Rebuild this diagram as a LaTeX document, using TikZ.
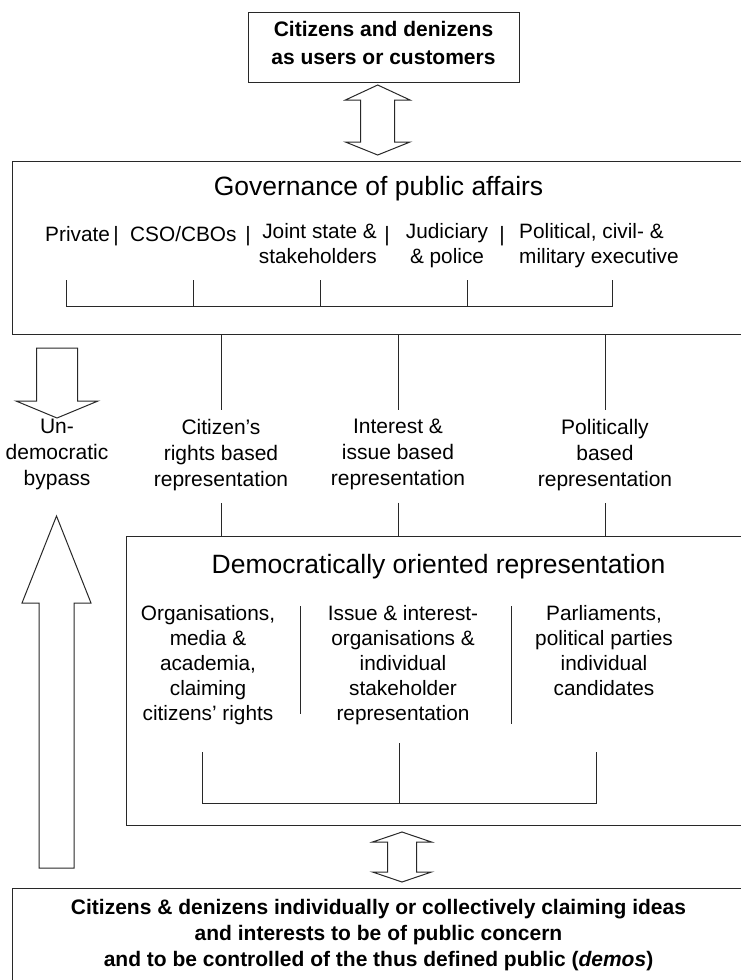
\documentclass[tikz,border=0pt]{standalone}
\usepackage{fontspec}
\setmainfont{Liberation Sans}
\usepackage{tikz}
\usetikzlibrary{positioning}
\definecolor{lineblack}{RGB}{40,40,40}
\tikzset{
  panel/.style={
    rectangle,
    draw=lineblack,
    line width=1pt,
    inner sep=0pt
  },
  txt/.style={
    inner sep=0pt,
    align=center,
    font=\fontsize{20.8}{25}\selectfont,
    execute at begin node=\strut,
    execute at end node=\strut
  },
  boldtxt/.style={
    txt,
    font=\fontsize{21}{26}\selectfont\bfseries
  },
  headtxt/.style={
    txt,
    font=\fontsize{26.5}{30}\selectfont
  },
  labeltxt/.style={
    txt,
    font=\fontsize{21}{26}\selectfont,
    inner ysep=9pt
  },
  link/.style={
    draw=lineblack,
    line width=1pt
  },
  blockarrow/.style={
    draw=lineblack,
    line width=1pt,
    fill=white,
    line join=miter
  }
}

\begin{document}
\begin{tikzpicture}[x=1pt,y=-1pt]
\useasboundingbox (0,0) rectangle (740,980);

% boxes
\node[panel, font=\fontsize{21}{28}\selectfont\bfseries, align=center, minimum width=271pt, minimum height=70pt, execute at begin node=\strut] (users) at (383.5,47) {Citizens and denizens\\as users or customers};
\node[panel, anchor=north west, minimum width=732pt, minimum height=173pt] (gov) at (12,161) {};
\node[panel, anchor=north west, minimum width=624pt, minimum height=289pt] (dem) at (126,536) {};
\node[panel, anchor=north west, minimum width=732pt, minimum height=110pt] (public) at (12,888) {};

% governance
\node[headtxt, below=13pt of gov.north] (govtitle) {Governance of public affairs};
\node[txt, anchor=north west] (private) at (45,223.5) {Private};
\node[txt, anchor=north] (bar1) at (116,223.5) {|};
\node[txt, anchor=north west] (cso) at (130,223.5) {CSO/CBOs};
\node[txt, anchor=north] (bar2) at (248,223.5) {|};
\node[txt, anchor=north east, align=right] (joint) at (377,223.5) {Joint state \&\\stakeholders};
\node[txt, anchor=north] (bar3) at (387,223.5) {|};
\node[txt, anchor=north] (judiciary) at (447,223.5) {Judiciary\\\& police};
\node[txt, anchor=north] (bar4) at (502,223.5) {|};
\node[txt, anchor=north west, align=left] (executive) at (519,223.5) {Political, civil- \&\\military executive};

\draw[link] (66,280) -- (66,306) -- (612,306) -- (612,280);
\draw[link] (193,280) -- (193,306);
\draw[link] (320,280) -- (320,306);
\draw[link] (467,280) -- (467,306);

% representation channels
\node[labeltxt, anchor=north] (bypass) at (57,410) {Un-\\democratic\\bypass};
\node[labeltxt, anchor=north] (rightsrep) at (221,410) {Citizen’s\\rights based\\representation};
\node[labeltxt, anchor=north] (issuerep) at (398,410) {Interest \&\\issue based\\representation};
\node[labeltxt, anchor=north] (politrep) at (605,410) {Politically\\based\\representation};

\draw[link] (rightsrep.north |- gov.south) -- (rightsrep.north);
\draw[link] (issuerep.north |- gov.south) -- (issuerep.north);
\draw[link] (politrep.north |- gov.south) -- (politrep.north);
\draw[link] (rightsrep.south) -- (rightsrep.south |- dem.north);
\draw[link] (issuerep.south) -- (issuerep.south |- dem.north);
\draw[link] (politrep.south) -- (politrep.south |- dem.north);

% democratic representation
\node[headtxt, below=16pt of dem.north] (demtitle) {Democratically oriented representation};
\node[txt, anchor=north] (orgs) at (208,605.5) {Organisations,\\media \&\\academia,\\claiming\\citizens’ rights};
\node[txt, anchor=north] (issueorgs) at (403,605.5) {Issue \& interest-\\organisations \&\\individual\\stakeholder\\representation};
\node[txt, anchor=north] (parliaments) at (604,605.5) {Parliaments,\\political parties\\individual\\candidates};

\draw[link] (300,606) -- (300,714);
\draw[link] (511,606) -- (511,724);
\draw[link] (202,752) -- (202,803) -- (596,803) -- (596,752);
\draw[link] (399,743) -- (399,803);

% public
\node[boldtxt, below=10.8pt of public.north] (demos) {Citizens \& denizens individually or collectively claiming ideas\\and interests to be of public concern\\and to be controlled of the thus defined public (\textit{demos})};

% block arrows
\draw[blockarrow] (377.7,85) -- (410,100) -- (394.7,100) -- (394.7,142) -- (410,142) -- (377.7,155)
  -- (345.4,142) -- (360.7,142) -- (360.7,100) -- (345.4,100) -- cycle;
\draw[blockarrow] (402,832) -- (431.5,842) -- (416.5,842) -- (416.5,872) -- (431.5,872) -- (402,882)
  -- (372.5,872) -- (387.5,872) -- (387.5,842) -- (372.5,842) -- cycle;
\draw[blockarrow] (36.5,348) -- (77.5,348) -- (77.5,401) -- (98,401) -- (57,418) -- (16,401) -- (36.5,401) -- cycle;
\draw[blockarrow] (56.5,516) -- (91,603) -- (74,603) -- (74,868) -- (39,868) -- (39,603) -- (22,603) -- cycle;
\end{tikzpicture}
\end{document}
